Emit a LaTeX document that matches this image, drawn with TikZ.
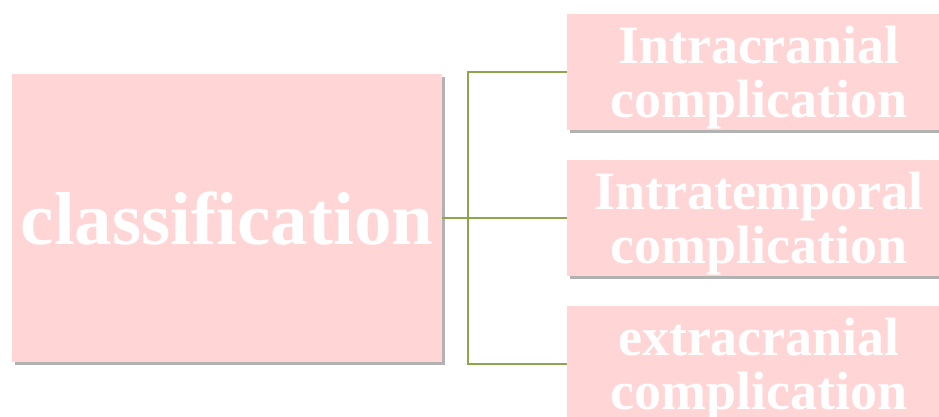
\documentclass[tikz,border=0pt]{standalone}
\usepackage{fontspec}
\setmainfont{Liberation Serif}
\usetikzlibrary{positioning, shadows}

\definecolor{boxpink}{RGB}{255,213,214}
\definecolor{branchgreen}{RGB}{140,166,78}

\begin{document}
\begin{tikzpicture}[x=1pt, y=-1pt]
        \tikzset{
            pinkbox/.style={rectangle, fill=boxpink, inner sep=0pt,
                drop shadow={shadow xshift=2.5pt, shadow yshift=-3pt, fill=black, opacity=0.3}},
            leafbox/.style={pinkbox, minimum width=384pt, minimum height=116pt},
            leaftext/.style={text=white, align=center, font=\fontsize{54}{54}\selectfont\bfseries},
            branch/.style={draw=branchgreen, line width=1.8pt}
        };

        \useasboundingbox (0,0) rectangle (939,417);

        \node[pinkbox, minimum width=430pt, minimum height=287pt] (cls) at (227, 218) {};
        \node[text=white, font=\fontsize{75}{75}\selectfont\bfseries] (clstext) at (cls.center) {classification};

        \node[leafbox] (intra) at (759, 72) {};
        \node[leafbox] (tempo) at (759, 218) {};
        \node[leafbox] (extra) at (759, 364) {};

        \node[leaftext] (intratext) at ([yshift=-6pt]intra.center) {Intracranial\\complication};
        \node[leaftext] (tempotext) at ([yshift=-6pt]tempo.center) {Intratemporal\\complication};
        \node[leaftext] (extratext) at ([yshift=-6pt]extra.center) {extracranial\\complication};

        \coordinate (fork) at (468, 218);
        \draw[branch] (cls.east) -- (fork);
        \draw[branch] (fork) |- (intra.west);
        \draw[branch] (fork) -- (tempo.west);
        \draw[branch] (fork) |- (extra.west);

    \end{tikzpicture}
\end{document}
